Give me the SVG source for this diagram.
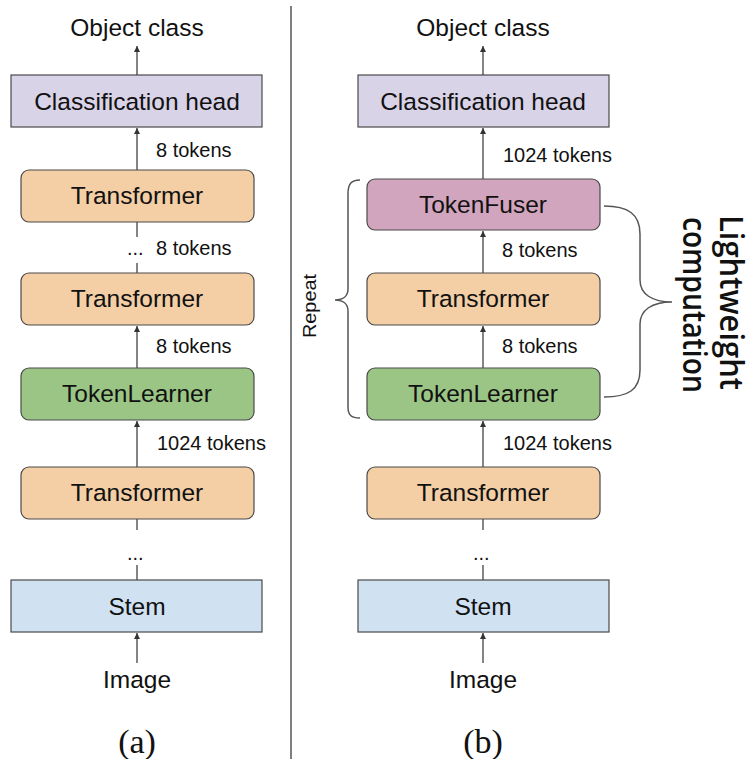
<svg xmlns="http://www.w3.org/2000/svg" width="750" height="759" viewBox="0 0 750 759">
  <defs>
    <marker id="arrow" markerUnits="userSpaceOnUse" markerWidth="7" markerHeight="7" refX="6" refY="3" orient="auto">
      <path d="M0,0 L6,3 L0,6 z" fill="#333"/>
    </marker>
    <style>
      .box { stroke: #4a4a4a; stroke-width: 1.2; }
      .head { fill: #d9d3e8; }
      .trans { fill: #f4cea5; }
      .learner { fill: #9bc585; }
      .fuser { fill: #d1a5bd; }
      .stem { fill: #d0e1f2; }
      .lbl { font-family: "Liberation Sans", Arial, sans-serif; font-size: 24.5px; fill: #111; text-anchor: middle; }
      .tok { font-family: "Liberation Sans", Arial, sans-serif; font-size: 20px; fill: #111; }
      .cap { font-family: "Liberation Serif", "Times New Roman", serif; font-size: 34px; fill: #111; text-anchor: middle; }
      .wire { stroke: #333; stroke-width: 1.2; fill: none; }
      .brace { stroke: #555; stroke-width: 1.5; fill: none; }
      .big { font-family: "Open Sans", "Noto Sans", sans-serif; font-weight: 600; font-size: 32px; fill: #111; }
    </style>
  </defs>
  <rect width="750" height="759" fill="#fff"/>

  <!-- divider between the two variants -->
  <line x1="291" y1="6" x2="291" y2="759" stroke="#555" stroke-width="1.5"/>

  <!-- connectors -->
  <g id="connectors">
    <!-- (a) -->
    <line class="wire" x1="137" y1="75" x2="137" y2="46" marker-end="url(#arrow)"/>
    <line class="wire" x1="137" y1="170" x2="137" y2="128" marker-end="url(#arrow)"/>
    <line class="wire" x1="137" y1="222" x2="137" y2="237"/>
    <line class="wire" x1="137" y1="263" x2="137" y2="273"/>
    <line class="wire" x1="137" y1="368" x2="137" y2="326" marker-end="url(#arrow)"/>
    <line class="wire" x1="137" y1="467" x2="137" y2="421" marker-end="url(#arrow)"/>
    <line class="wire" x1="137" y1="519" x2="137" y2="530"/>
    <line class="wire" x1="137" y1="565" x2="137" y2="580"/>
    <line class="wire" x1="137" y1="663" x2="137" y2="633" marker-end="url(#arrow)"/>
    <!-- (b) -->
    <line class="wire" x1="483" y1="75" x2="483" y2="46" marker-end="url(#arrow)"/>
    <line class="wire" x1="483" y1="179" x2="483" y2="128" marker-end="url(#arrow)"/>
    <line class="wire" x1="483" y1="273" x2="483" y2="231" marker-end="url(#arrow)"/>
    <line class="wire" x1="483" y1="368" x2="483" y2="326" marker-end="url(#arrow)"/>
    <line class="wire" x1="483" y1="467" x2="483" y2="421" marker-end="url(#arrow)"/>
    <line class="wire" x1="483" y1="519" x2="483" y2="530"/>
    <line class="wire" x1="483" y1="565" x2="483" y2="580"/>
    <line class="wire" x1="483" y1="663" x2="483" y2="633" marker-end="url(#arrow)"/>
  </g>

  <!-- token count labels -->
  <g id="labels">
    <text class="lbl" x="137" y="36">Object class</text>
    <text class="tok" x="156" y="157">8 tokens</text>
    <text class="tok" x="127" y="255">...</text>
    <text class="tok" x="156" y="255">8 tokens</text>
    <text class="tok" x="156" y="353">8 tokens</text>
    <text class="tok" x="157" y="450">1024 tokens</text>
    <text class="tok" x="127" y="560">...</text>
    <text class="lbl" x="137" y="688">Image</text>
    <text class="cap" x="137" y="753">(a)</text>

    <text class="lbl" x="483" y="36">Object class</text>
    <text class="tok" x="503" y="162">1024 tokens</text>
    <text class="tok" x="502" y="257">8 tokens</text>
    <text class="tok" x="502" y="353">8 tokens</text>
    <text class="tok" x="503" y="450">1024 tokens</text>
    <text class="tok" x="473" y="560">...</text>
    <text class="lbl" x="483" y="688">Image</text>
    <text class="cap" x="483" y="753">(b)</text>
  </g>

  <!-- (a) baseline stack -->
  <g id="a-head"><rect class="box head" x="11" y="75" width="251" height="52"/><text class="lbl" x="137" y="110">Classification head</text></g>
  <g id="a-transformer-top"><rect class="box trans" x="21" y="170" width="233" height="52" rx="8"/><text class="lbl" x="137" y="204">Transformer</text></g>
  <g id="a-transformer-mid"><rect class="box trans" x="21" y="273" width="233" height="52" rx="8"/><text class="lbl" x="137" y="307">Transformer</text></g>
  <g id="a-tokenlearner"><rect class="box learner" x="21" y="368" width="233" height="52" rx="8"/><text class="lbl" x="137" y="402">TokenLearner</text></g>
  <g id="a-transformer-low"><rect class="box trans" x="21" y="467" width="233" height="52" rx="8"/><text class="lbl" x="137" y="501">Transformer</text></g>
  <g id="a-stem"><rect class="box stem" x="11" y="580" width="251" height="52"/><text class="lbl" x="137" y="615">Stem</text></g>

  <!-- (b) stack with TokenFuser -->
  <g id="b-head"><rect class="box head" x="358" y="75" width="251" height="52"/><text class="lbl" x="483" y="110">Classification head</text></g>
  <g id="b-tokenfuser"><rect class="box fuser" x="367" y="179" width="233" height="51" rx="8"/><text class="lbl" x="483" y="213">TokenFuser</text></g>
  <g id="b-transformer-mid"><rect class="box trans" x="367" y="273" width="233" height="52" rx="8"/><text class="lbl" x="483" y="307">Transformer</text></g>
  <g id="b-tokenlearner"><rect class="box learner" x="367" y="368" width="233" height="52" rx="8"/><text class="lbl" x="483" y="402">TokenLearner</text></g>
  <g id="b-transformer-low"><rect class="box trans" x="367" y="467" width="233" height="52" rx="8"/><text class="lbl" x="483" y="501">Transformer</text></g>
  <g id="b-stem"><rect class="box stem" x="358" y="580" width="251" height="52"/><text class="lbl" x="483" y="615">Stem</text></g>

  <!-- repeat brace -->
  <g id="repeat">
    <path class="brace" d="M360,180 C351,180 348,184 348,194 L348,289 C348,296 343,300 335,300 C343,300 348,304 348,311 L348,407 C348,415 351,418 360,418"/>
    <text class="tok" transform="translate(316,338) rotate(-90)" textLength="64" lengthAdjust="spacingAndGlyphs" style="font-size:19px">Repeat</text>
  </g>

  <!-- lightweight computation brace -->
  <g id="lightweight">
    <path class="brace" d="M604,206 C628,206 640,214 640,234 L640,280 C640,294 652,302 672,302 C652,302 640,310 640,324 L640,370 C640,390 628,397 604,397"/>
    <text class="big" transform="translate(720,215) rotate(90)" textLength="175" lengthAdjust="spacingAndGlyphs">Lightweight</text>
    <text class="big" transform="translate(683,217) rotate(90)" textLength="176" lengthAdjust="spacingAndGlyphs">computation</text>
  </g>
</svg>
